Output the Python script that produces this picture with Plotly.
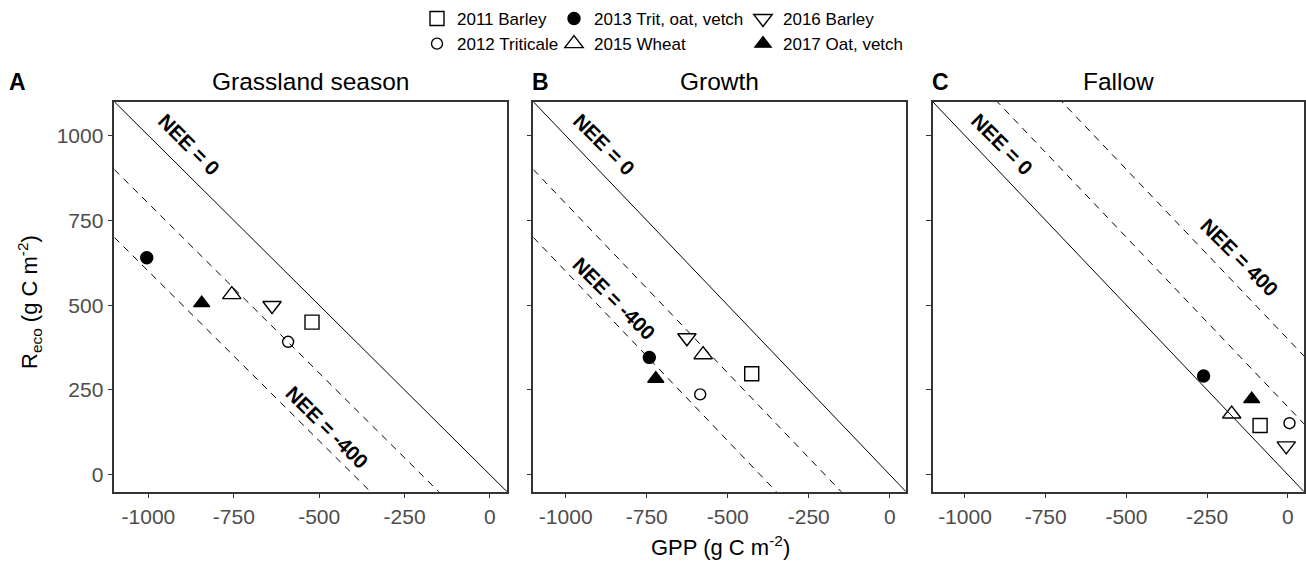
import plotly.graph_objects as go

# ---------------- data ----------------
series = ["2011 Barley", "2012 Triticale", "2013 Trit, oat, vetch",
          "2015 Wheat", "2016 Barley", "2017 Oat, vetch"]
symbols = ["square-open", "circle-open", "circle",
           "triangle-up-open", "triangle-down-open", "triangle-up"]
sizes = [14, 11, 12, 16, 16, 14]

gpp_grass = [-521, -591, -1005, -756, -638, -844]
reco_grass = [450, 392, 640, 531, 499, 506]
gpp_growth = [-426, -585, -742, -576, -626, -722]
reco_growth = [298, 237, 346, 354, 404, 283]
gpp_fallow = [-86, 5, -261, -174, -5, -112]
reco_fallow = [145, 152, 291, 179, 85, 223]

panel_titles = ["Grassland season", "Growth", "Fallow"]
panel_letters = ["A", "B", "C"]
nee_lines = [[0, -200, -400], [0, -200, -400], [0, 200, 400]]
nee_labels = [
    [("NEE = 0", -880, 975), ("NEE = -400", -475, 140)],
    [("NEE = 0", -880, 975), ("NEE = -400", -850, 520)],
    [("NEE = 0", -883, 975), ("NEE = 400", -148, 642)],
]
xticks = [-1000, -750, -500, -250, 0]
yticks = [0, 250, 500, 750, 1000]
xrange_ = [-1100, 50]
yrange_ = [-50, 1100]

W, H = 1306, 561
# panel pixel boxes (left, right)
panel_px = [(114.3, 507), (533.3, 906), (932.7, 1304)]
top_px, bot_px = 101.7, 491.7

fig = go.Figure()
panels = [(gpp_grass, reco_grass), (gpp_growth, reco_growth), (gpp_fallow, reco_fallow)]

for p in range(3):
    xa = "x" if p == 0 else f"x{p+1}"
    ya = "y" if p == 0 else f"y{p+1}"
    # reference lines
    for nee in nee_lines[p]:
        xs = xrange_
        ys = [nee - v for v in xs]
        fig.add_trace(go.Scatter(
            x=xs, y=ys, mode="lines", xaxis=xa, yaxis=ya, showlegend=False,
            hoverinfo="skip",
            line=dict(color="black", width=1,
                      dash="solid" if nee == 0 else "7px,6px")))
    gx, ry = panels[p]
    for i, name in enumerate(series):
        col = i // 2
        lg = "legend" if col == 0 else f"legend{col+1}"
        fig.add_trace(go.Scatter(
            x=[gx[i]], y=[ry[i]], mode="markers", name=name,
            xaxis=xa, yaxis=ya, showlegend=(p == 0), legend=lg,
            legendgroup=name,
            marker=dict(symbol=symbols[i], size=sizes[i], color="black",
                        line=dict(color="black", width=1.4))))

layout = dict(
    width=W, height=H, paper_bgcolor="white", plot_bgcolor="white",
    margin=dict(l=0, r=0, t=0, b=0, autoexpand=False),
    font=dict(family="Liberation Sans, Arial", color="black"),
)
ydom = [1 - bot_px / H, 1 - top_px / H]
for p in range(3):
    xk = "xaxis" if p == 0 else f"xaxis{p+1}"
    yk = "yaxis" if p == 0 else f"yaxis{p+1}"
    l, r = panel_px[p]
    layout[xk] = dict(domain=[l / W, r / W], range=xrange_, tickvals=xticks,
                      ticktext=[str(t) for t in xticks],
                      showgrid=False, zeroline=False, showline=True, mirror=True,
                      linecolor="#333333", linewidth=1.5, ticks="outside", ticklen=5,
                      tickcolor="#333333", tickfont=dict(size=21, color="#4d4d4d"),
                      anchor="y" if p == 0 else f"y{p+1}", automargin=False)
    layout[yk] = dict(domain=ydom, range=yrange_, tickvals=yticks,
                      ticktext=[str(t) for t in yticks] if p == 0 else [""] * 5,
                      showgrid=False, zeroline=False, showline=True, mirror=True,
                      linecolor="#333333", linewidth=1.5, ticks="outside", ticklen=5,
                      tickcolor="#333333", tickfont=dict(size=21, color="#4d4d4d"),
                      anchor="x" if p == 0 else f"x{p+1}", automargin=False)

legend_x = [417, 554, 743]
for c in range(3):
    key = "legend" if c == 0 else f"legend{c+1}"
    layout[key] = dict(xref="container", yref="container", x=legend_x[c] / W,
                       y=1 - 1 / H, xanchor="left", yanchor="top",
                       orientation="v", bgcolor="rgba(0,0,0,0)",
                       font=dict(size=17, color="black"), tracegroupgap=0,
                       itemwidth=30)

annotations = []
for p in range(3):
    l, r = panel_px[p]
    annotations.append(dict(text=panel_titles[p], x=(l + r) / 2 / W, y=1 - 81 / H,
                            xref="paper", yref="paper", xanchor="center", yanchor="middle",
                            showarrow=False, font=dict(size=24.5, color="black")))
    annotations.append(dict(text="<b>%s</b>" % panel_letters[p],
                            x=(7 if p == 0 else l - 3) / W, y=1 - 82 / H,
                            xref="paper", yref="paper", xanchor="left", yanchor="middle",
                            showarrow=False, font=dict(size=23, color="black")))
    xa = "x" if p == 0 else f"x{p+1}"
    ya = "y" if p == 0 else f"y{p+1}"
    for txt, tx, ty in nee_labels[p]:
        annotations.append(dict(text="<b>%s</b>" % txt, x=tx, y=ty, xref=xa, yref=ya,
                                xanchor="center", yanchor="middle",
                                showarrow=False, textangle=45,
                                font=dict(size=20.5, color="black")))

annotations.append(dict(text="GPP (g C m<sup>-2</sup>)", x=720 / W, y=1 - 546 / H,
                        xref="paper", yref="paper", xanchor="center", yanchor="middle",
                        showarrow=False, font=dict(size=22, color="black")))
annotations.append(dict(text="R<sub>eco</sub> (g C m<sup>-2</sup>)", x=29 / W,
                        y=1 - 302 / H, xref="paper", yref="paper", xanchor="center",
                        yanchor="middle", showarrow=False,
                        textangle=-90, font=dict(size=22, color="black")))
layout["annotations"] = annotations
fig.update_layout(**layout)
fig.write_html("out.html")
